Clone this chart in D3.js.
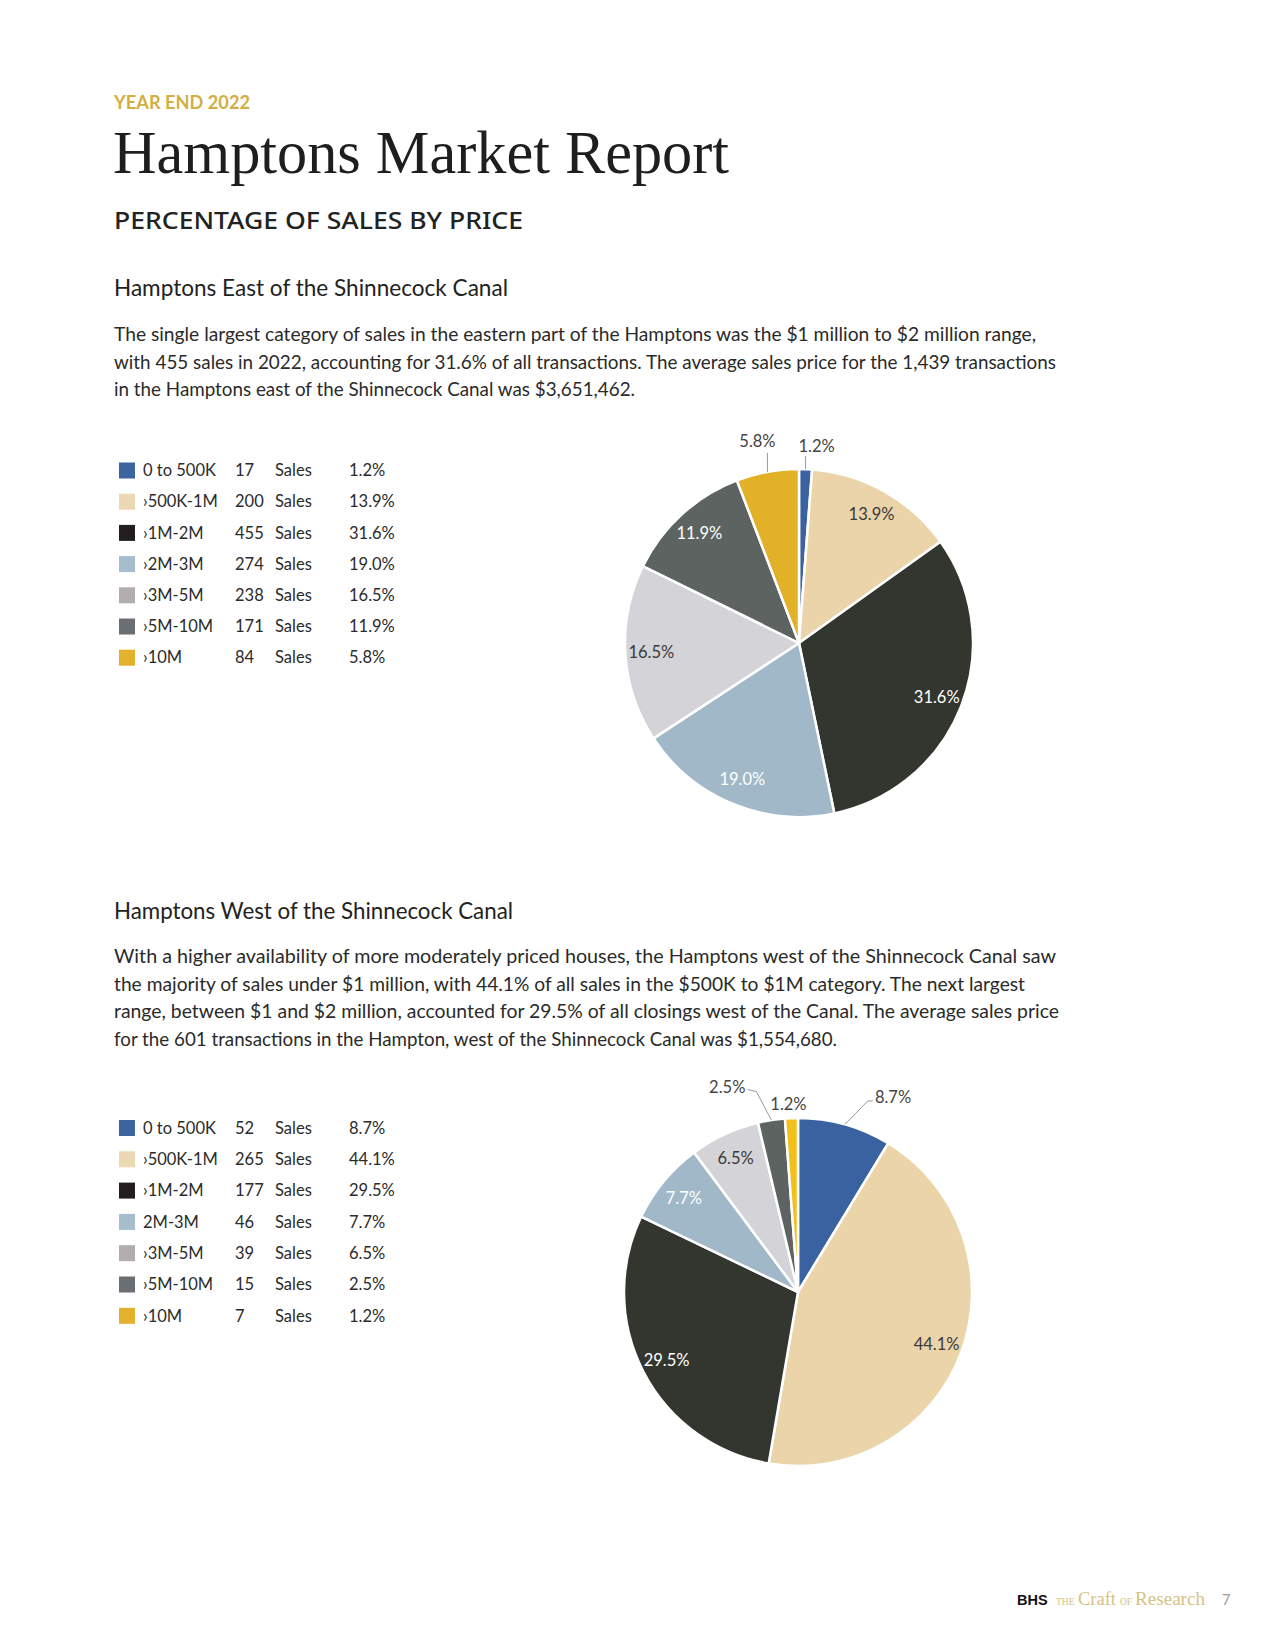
<!DOCTYPE html>
<html>
<head>
<meta charset="utf-8">
<script src="https://cdn.jsdelivr.net/npm/d3@7"></script>
<style>
  html, body { margin: 0; padding: 0; background: #ffffff; }
  svg { display: block; }
</style>
</head>
<body>
<div id="chart"></div>
<script>
// ---------------- DATA ----------------
const eastCategories = ["0 to 500K", "\u203A500K-1M", "\u203A1M-2M", "\u203A2M-3M", "\u203A3M-5M", "\u203A5M-10M", "\u203A10M"];
const eastSales = [17, 200, 455, 274, 238, 171, 84];
const eastPct = [1.2, 13.9, 31.6, 19.0, 16.5, 11.9, 5.8];

const westCategories = ["0 to 500K", "\u203A500K-1M", "\u203A1M-2M", "2M-3M", "\u203A3M-5M", "\u203A5M-10M", "\u203A10M"];
const westSales = [52, 265, 177, 46, 39, 15, 7];
const westPct = [8.7, 44.1, 29.5, 7.7, 6.5, 2.5, 1.2];

const eastParagraph = [
  "The single largest category of sales in the eastern part of the Hamptons was the $1 million to $2 million range,",
  "with 455 sales in 2022, accounting for 31.6% of all transactions.  The average sales price for the 1,439 transactions",
  "in the Hamptons east of the Shinnecock Canal was $3,651,462."
];
const westParagraph = [
  "With a higher availability of more moderately priced houses, the Hamptons west of the Shinnecock Canal saw",
  "the majority of sales under $1 million, with 44.1% of all sales in the $500K to $1M category. The next largest",
  "range, between $1 and $2 million, accounted for 29.5% of all closings west of the Canal. The average sales price",
  "for the 601 transactions in the Hampton, west of the Shinnecock Canal was $1,554,680."
];

// ---------------- STYLES ----------------
const pieColors = ["#3a62a0", "#ebd4aa", "#33362f", "#a1b8c8", "#d4d3d7", "#5d6361", "#e2b128"];
const westPieColors = ["#3a62a0", "#ebd4aa", "#33362f", "#a1b8c8", "#d4d3d7", "#5d6361", "#f2c01a"];
const legendColors = ["#3c64a0", "#ecd8b2", "#231f20", "#a6bdcc", "#b4adad", "#6b6f74", "#e3b12b"];
const insideLabelColors = ["#ffffff", "#3a3a3a", "#ffffff", "#ffffff", "#3a3a3a", "#ffffff", "#3a3a3a"];

const W = 1275, H = 1650;
const svg = d3.select("#chart").append("svg")
  .attr("width", W).attr("height", H)
  .attr("viewBox", `0 0 ${W} ${H}`);
svg.append("rect").attr("width", W).attr("height", H).attr("fill", "#ffffff");

const LEFT = 114;
const sansFont = "Lato, 'Noto Sans', sans-serif";

// ---------------- HEADER ----------------
svg.append("text")
  .attr("x", LEFT).attr("y", 109)
  .attr("font-family", sansFont).attr("font-weight", 700)
  .attr("font-size", 18).attr("fill", "#d3ae45")
  .attr("textLength", 136).attr("lengthAdjust", "spacingAndGlyphs")
  .text("YEAR END 2022");

svg.append("text")
  .attr("x", LEFT - 1).attr("y", 173)
  .attr("font-family", "'Liberation Serif', 'DejaVu Serif', serif")
  .attr("font-size", 61).attr("fill", "#1e1e1e")
  .attr("textLength", 616).attr("lengthAdjust", "spacingAndGlyphs")
  .text("Hamptons Market Report");

svg.append("text")
  .attr("x", LEFT).attr("y", 229)
  .attr("font-family", "'Noto Sans', sans-serif").attr("font-weight", 500)
  .attr("font-size", 24).attr("fill", "#222222")
  .attr("textLength", 409).attr("lengthAdjust", "spacingAndGlyphs")
  .text("PERCENTAGE OF SALES BY PRICE");

// ---------------- SECTIONS ----------------
function section(cfg) {
  const g = svg.append("g");

  // heading
  g.append("text")
    .attr("x", LEFT).attr("y", cfg.titleY)
    .attr("font-family", sansFont).attr("font-size", 24).attr("fill", "#222222")
    .attr("textLength", cfg.titleW).attr("lengthAdjust", "spacingAndGlyphs")
    .text(cfg.title);

  // paragraph
  g.selectAll("text.para").data(cfg.paragraph).join("text")
    .attr("class", "para")
    .attr("x", LEFT)
    .attr("y", (d, i) => cfg.paraY + i * 27.6)
    .attr("font-family", sansFont).attr("font-size", 19).attr("fill", "#2a2a2a")
    .attr("textLength", (d, i) => cfg.paraW[i]).attr("lengthAdjust", "spacingAndGlyphs")
    .text(d => d);

  // legend
  const idx = d3.range(cfg.categories.length);
  const yRow = d3.scalePoint().domain(idx).range([cfg.legendY0, cfg.legendY0 + 6 * cfg.legendStep]);
  const lg = g.append("g").attr("font-family", sansFont).attr("font-size", 16.5).attr("fill", "#2b2b2b");
  const rows = lg.selectAll("g.row").data(idx).join("g").attr("class", "row")
    .attr("transform", i => `translate(0,${yRow(i)})`);
  rows.append("rect").attr("x", 119).attr("y", -8).attr("width", 16).attr("height", 16)
    .attr("fill", i => legendColors[i]);
  rows.append("text").attr("x", 143).attr("dy", "0.35em").text(i => cfg.categories[i]);
  rows.append("text").attr("x", 235).attr("dy", "0.35em").text(i => cfg.sales[i]);
  rows.append("text").attr("x", 275).attr("dy", "0.35em").text("Sales");
  rows.append("text").attr("x", 349).attr("dy", "0.35em").text(i => cfg.pct[i].toFixed(1) + "%");

  // pie
  const R = cfg.radius;
  const pie = d3.pie().sort(null).value(i => cfg.pct[i]);
  const arcs = pie(idx);
  const arc = d3.arc().innerRadius(0).outerRadius(R);
  const labelArc = d3.arc().innerRadius(R * 0.85).outerRadius(R * 0.85);
  const edgeArc = d3.arc().innerRadius(R).outerRadius(R);

  const pg = g.append("g").attr("transform", `translate(${cfg.cx},${cfg.cy})`);
  pg.selectAll("path").data(arcs).join("path")
    .attr("d", arc)
    .attr("fill", d => cfg.colors[d.data])
    .attr("stroke", "#ffffff").attr("stroke-width", 2.5).attr("stroke-linejoin", "round");

  const inside = arcs.filter(d => !cfg.outside[d.data]);
  pg.selectAll("text.in").data(inside).join("text")
    .attr("class", "in")
    .attr("transform", d => `translate(${labelArc.centroid(d)})`)
    .attr("text-anchor", "middle").attr("dy", "0.35em")
    .attr("font-family", sansFont).attr("font-size", 16.5)
    .attr("fill", d => insideLabelColors[d.data])
    .text(d => cfg.pct[d.data].toFixed(1) + "%");

  const outside = arcs.filter(d => cfg.outside[d.data]);
  outside.forEach(d => {
    const o = cfg.outside[d.data];
    const [ex, ey] = edgeArc.centroid(d);
    if (o.leader) {
      pg.append("polyline")
        .attr("points", o.leader.map(p => [ex + p[0], ey + p[1]].join(",")).join(" "))
        .attr("fill", "none").attr("stroke", "#9a9a9a").attr("stroke-width", 1);
    }
    pg.append("text")
      .attr("x", ex + o.tx).attr("y", ey + o.ty)
      .attr("text-anchor", o.anchor)
      .attr("font-family", sansFont).attr("font-size", 16.5).attr("fill", "#444444")
      .text(cfg.pct[d.data].toFixed(1) + "%");
  });
}

section({
  title: "Hamptons East of the Shinnecock Canal",
  titleY: 296, titleW: 394,
  paragraph: eastParagraph, paraY: 341, paraW: [922, 942, 521],
  categories: eastCategories, sales: eastSales, pct: eastPct,
  legendY0: 470.5, legendStep: 31.2,
  cx: 799, cy: 643, radius: 174,
  colors: pieColors,
  outside: {
    0: { leader: [[0, 0], [0, -13]], tx: 11, ty: -17, anchor: "middle" },
    6: { leader: [[0, 0], [0, -19]], tx: -10, ty: -25, anchor: "middle" }
  }
});

section({
  title: "Hamptons West of the Shinnecock Canal",
  titleY: 919, titleW: 399,
  paragraph: westParagraph, paraY: 963, paraW: [942, 911, 945, 723],
  categories: westCategories, sales: westSales, pct: westPct,
  legendY0: 1128, legendStep: 31.3,
  cx: 798, cy: 1292, radius: 174,
  colors: westPieColors,
  outside: {
    0: { leader: [[0, 0], [23, -23.5], [28, -23.5]], tx: 30, ty: -21, anchor: "start" },
    5: { leader: [[0, 0], [-15, -28.5], [-23.5, -30.5]], tx: -26, ty: -27, anchor: "end" },
    6: { leader: null, tx: -3, ty: -8, anchor: "middle" }
  }
});

// ---------------- FOOTER ----------------
const foot = svg.append("g");
foot.append("text").attr("x", 1017).attr("y", 1605)
  .attr("font-family", "'Liberation Sans', Arial, sans-serif").attr("font-weight", 700)
  .attr("font-size", 14.5).attr("fill", "#111111").text("BHS");
foot.append("text").attr("x", 1056).attr("y", 1605)
  .attr("font-family", "'Liberation Serif', serif").attr("font-size", 9.5)
  .attr("fill", "#d6c283").text("THE");
foot.append("text").attr("x", 1078).attr("y", 1605)
  .attr("font-family", "'Liberation Serif', serif").attr("font-size", 18.5)
  .attr("fill", "#d6c283").text("Craft");
foot.append("text").attr("x", 1120).attr("y", 1605)
  .attr("font-family", "'Liberation Serif', serif").attr("font-size", 9.5)
  .attr("fill", "#d6c283").text("OF");
foot.append("text").attr("x", 1135).attr("y", 1605)
  .attr("font-family", "'Liberation Serif', serif").attr("font-size", 18.5)
  .attr("fill", "#d6c283").attr("textLength", 70).attr("lengthAdjust", "spacingAndGlyphs")
  .text("Research");
foot.append("text").attr("x", 1222).attr("y", 1605)
  .attr("font-family", sansFont).attr("font-size", 14.5)
  .attr("fill", "#9a9a9a").text("7");
</script>
</body>
</html>
